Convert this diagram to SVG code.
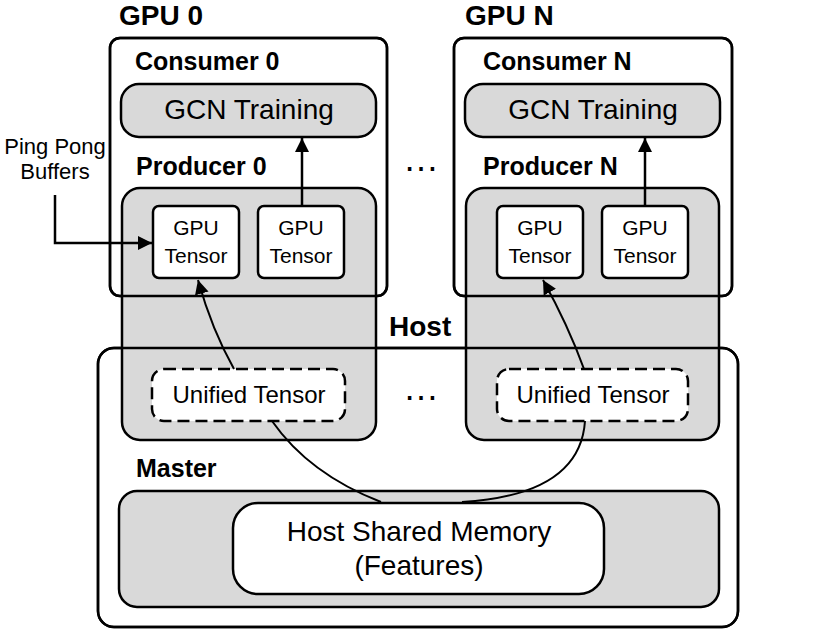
<svg xmlns="http://www.w3.org/2000/svg" width="831" height="630" viewBox="0 0 831 630">
<style>
  text { font-family: "Liberation Sans", Arial, sans-serif; fill: #000; }
  .title { font-size: 28px; font-weight: bold; }
  .label { font-size: 25px; font-weight: bold; }
  .big { font-size: 28px; text-anchor: middle; }
  .mid { font-size: 24px; text-anchor: middle; }
  .small { font-size: 21px; text-anchor: middle; }
  .note { font-size: 22px; text-anchor: middle; }
  .gray { fill: #d9d9d9; stroke: #000; stroke-width: 2.5; }
  .white { fill: #fff; stroke: #000; stroke-width: 2.5; }
  .frame { fill: none; stroke: #000; stroke-width: 2.5; }
  .dashed { fill: #fff; stroke: #000; stroke-width: 2.5; stroke-dasharray: 12 6; }
  .conn { fill: none; stroke: #000; stroke-width: 2.5; }
  .curve { fill: none; stroke: #000; stroke-width: 2; }
</style>
<defs>
  <marker id="arrow" markerUnits="userSpaceOnUse" markerWidth="16" markerHeight="16" refX="14" refY="7" orient="auto">
    <path d="M0,0 L14,7 L0,14 z" fill="#000"/>
  </marker>
</defs>

<!-- backgrounds -->
<g id="gpu0">
  <rect class="white" x="110" y="38" width="277" height="258" rx="10"/>
  <text class="title" x="119" y="25">GPU 0</text>
</g>
<g id="gpuN">
  <rect class="white" x="454" y="38" width="278" height="258" rx="10"/>
  <text class="title" x="465" y="25">GPU N</text>
</g>
<g id="host">
  <rect class="white" x="98" y="348" width="640" height="279" rx="16"/>
  <text class="title" x="389" y="336">Host</text>
</g>

<g id="consumer0">
  <text class="label" x="135" y="70">Consumer 0</text>
  <rect class="gray" x="121" y="84" width="255" height="53" rx="18"/>
  <text class="big" x="249" y="119">GCN Training</text>
</g>
<g id="consumerN">
  <text class="label" x="483" y="70">Consumer N</text>
  <rect class="gray" x="465" y="84" width="255" height="53" rx="18"/>
  <text class="big" x="593" y="119">GCN Training</text>
</g>

<g id="producer0">
  <text class="label" x="136" y="175">Producer 0</text>
  <rect class="gray" x="122" y="188" width="254" height="252" rx="18"/>
</g>
<g id="producerN">
  <text class="label" x="483" y="175">Producer N</text>
  <rect class="gray" x="466" y="188" width="253" height="252" rx="18"/>
</g>

<!-- frames drawn over producers -->
<g id="frames">
  <rect class="frame" x="110" y="38" width="277" height="258" rx="10"/>
  <rect class="frame" x="454" y="38" width="278" height="258" rx="10"/>
  <rect class="frame" x="98" y="348" width="640" height="279" rx="16"/>
</g>

<g id="tensor0a">
  <rect class="white" x="153" y="206" width="86" height="72" rx="6"/>
  <text class="small" x="196" y="235">GPU</text>
  <text class="small" x="196" y="263">Tensor</text>
</g>
<g id="tensor0b">
  <rect class="white" x="258" y="206" width="86" height="72" rx="6"/>
  <text class="small" x="301" y="235">GPU</text>
  <text class="small" x="301" y="263">Tensor</text>
</g>
<g id="tensorNa">
  <rect class="white" x="497" y="206" width="86" height="72" rx="6"/>
  <text class="small" x="540" y="235">GPU</text>
  <text class="small" x="540" y="263">Tensor</text>
</g>
<g id="tensorNb">
  <rect class="white" x="602" y="206" width="86" height="72" rx="6"/>
  <text class="small" x="645" y="235">GPU</text>
  <text class="small" x="645" y="263">Tensor</text>
</g>

<g id="unified0">
  <rect class="dashed" x="152" y="369" width="193" height="52" rx="12"/>
  <text class="mid" x="249" y="403">Unified Tensor</text>
</g>
<g id="unifiedN">
  <rect class="dashed" x="497" y="369" width="191" height="52" rx="12"/>
  <text class="mid" x="593" y="403">Unified Tensor</text>
</g>

<g id="master">
  <text class="label" x="136" y="477">Master</text>
  <rect class="gray" x="119" y="491" width="600" height="116" rx="18"/>
</g>
<g id="hsm">
  <rect class="white" x="233" y="503" width="371" height="91" rx="25"/>
  <text class="big" x="419" y="541">Host Shared Memory</text>
  <text class="big" x="419" y="575">(Features)</text>
</g>

<g id="pingpong">
  <text class="note" x="55" y="154">Ping Pong</text>
  <text class="note" x="55" y="179">Buffers</text>
</g>

<g id="ellipses">
  <text x="421" y="171" style="font-size:36px;text-anchor:middle">…</text>
  <text x="421" y="400" style="font-size:36px;text-anchor:middle">…</text>
</g>

<g id="connectors">
  <path class="conn" d="M55,195 L55,243 L152,243" marker-end="url(#arrow)"/>
  <path class="conn" d="M302,206 L302,138" marker-end="url(#arrow)"/>
  <path class="conn" d="M645,206 L645,138" marker-end="url(#arrow)"/>
  <path class="curve" d="M234,369 Q212,330 198,280" marker-end="url(#arrow)"/>
  <path class="curve" d="M584,369 Q568,325 543,280" marker-end="url(#arrow)"/>
  <path class="curve" d="M272,421 Q309,474 381,502"/>
  <path class="curve" d="M585,421 Q580,495 462,502"/>
</g>
</svg>
